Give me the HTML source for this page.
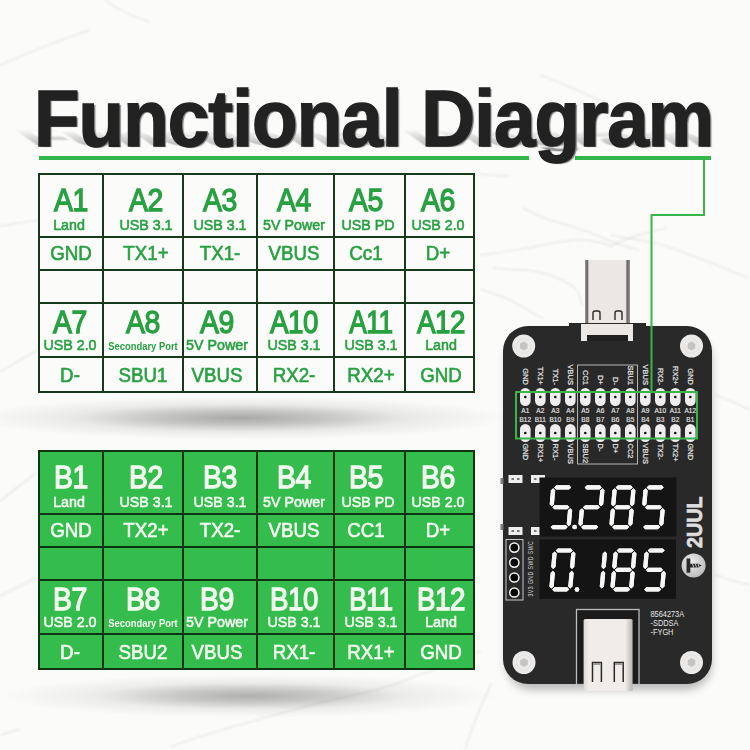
<!DOCTYPE html>
<html><head><meta charset="utf-8"><style>
html,body{margin:0;padding:0}
body{width:750px;height:750px;position:relative;overflow:hidden;background:#fbfbfa;font-family:"Liberation Sans",sans-serif}
.abs{position:absolute}
.t{position:absolute;width:200px;text-align:center;white-space:nowrap;transform-origin:50% 50%}
.pl{font-size:6.5px;fill:#e6e6e6;stroke:#e6e6e6;stroke-width:0.15px;font-family:"Liberation Sans"}
.pr{font-size:7.5px;fill:#e6e6e6;stroke:#e6e6e6;stroke-width:0.2px;font-family:"Liberation Sans"}
.ph{font-size:7px;fill:#dcdcdc;font-family:"Liberation Sans";letter-spacing:0.6px}
.logo{font-size:22px;font-weight:bold;fill:#dedede;stroke:#dedede;stroke-width:0.7px;font-family:"Liberation Sans"}
.pn{font-size:8.2px;fill:#e8e8e8;font-family:"Liberation Sans"}
.title{position:absolute;left:34px;top:71.5px;font-size:80.5px;line-height:92px;font-weight:bold;color:#222;white-space:nowrap;transform-origin:0 0;transform:scaleX(0.926);letter-spacing:-1px;-webkit-text-stroke:1.5px #222;text-shadow:2px 1px 1px #7d7d7d}
.tshadow{position:absolute;left:34px;top:71.5px;font-size:80.5px;line-height:92px;font-weight:bold;color:rgba(0,0,0,0.5);white-space:nowrap;transform-origin:0 73.9px;transform:matrix(0.926,0,0.45,0.32,0,0);letter-spacing:-1px;-webkit-text-stroke:1.5px rgba(0,0,0,0.5);filter:blur(1.5px);-webkit-mask-image:linear-gradient(to top, rgba(0,0,0,1) 0px, rgba(0,0,0,0.5) 20px, rgba(0,0,0,0) 70px)}
</style></head><body>
<svg class="abs" style="left:0;top:0" width="750" height="750" viewBox="0 0 750 750">
<g fill="none" stroke="rgba(0,0,0,0.075)" stroke-width="1.6" style="filter:blur(0.8px)">
<path d="M171,747 C200,735 230,728 257,720 S330,700 363,693 S410,678 427,672 S470,655 481,651"/>
<path d="M491,683 C480,710 470,730 465,750"/>
<path d="M0,735 C8,733 14,731 20,729"/>
<path d="M0,501 C12,492 24,482 36,473"/>
<path d="M0,596 C12,590 24,584 36,578"/>
<path d="M0,226 C12,224 26,222 38,220"/>
<path d="M0,372 C12,365 26,356 38,350"/>
<path d="M105,0 C115,8 128,15 150,22"/>
<path d="M0,65 C30,52 60,40 90,30"/>
<path d="M480,174 C490,175 500,176 508,176"/>
<path d="M523,208 C535,214 544,219 556,222 S590,232 608,240 S618,244 640,250"/>
<path d="M480,255 C495,253 512,251 528,248 S560,241 576,240 S600,243 612,246"/>
<path d="M493,268 C505,269 515,270 523,270 S548,274 555,277 S572,285 576,289 S580,300 582,306"/>
<path d="M480,289 C490,292 501,296 510,300 S530,312 544,319"/>
<path d="M610,235 C625,238 640,240 651,242 S700,258 748,278"/>
<path d="M610,246 C618,243 625,240 633,237 S655,231 667,228"/>
<path d="M540,75 C560,82 580,92 600,100"/>
<path d="M715,395 C730,400 740,405 750,410"/>
<path d="M715,575 C730,580 740,583 750,585"/>
</g></svg>
<div class="abs" style="left:-30px;top:396px;width:540px;height:44px;background:radial-gradient(ellipse 50% 50% at 50% 50%, rgba(0,0,0,0.33) 0%, rgba(0,0,0,0.22) 30%, rgba(0,0,0,0.07) 62%, rgba(0,0,0,0) 100%)"></div>
<div class="abs" style="left:0px;top:674px;width:500px;height:44px;background:radial-gradient(ellipse 50% 50% at 50% 50%, rgba(0,0,0,0.30) 0%, rgba(0,0,0,0.20) 30%, rgba(0,0,0,0.06) 62%, rgba(0,0,0,0) 100%)"></div>
<div class="tshadow">Functional Diagram</div>
<div class="title">Functional Diagram</div>
<div class="abs" style="left:39px;top:156px;width:490px;height:4px;background:#33b64b"></div>
<div class="abs" style="left:575px;top:156px;width:136px;height:4px;background:#33b64b"></div>
<div class="abs" style="left:38px;top:173px;width:437px;height:220px;background:transparent"></div>
<div class="abs" style="left:38px;top:173px;width:2px;height:220px;background:#163a1b"></div>
<div class="abs" style="left:102px;top:173px;width:2px;height:220px;background:#163a1b"></div>
<div class="abs" style="left:182px;top:173px;width:2px;height:220px;background:#163a1b"></div>
<div class="abs" style="left:256px;top:173px;width:2px;height:220px;background:#163a1b"></div>
<div class="abs" style="left:333px;top:173px;width:2px;height:220px;background:#163a1b"></div>
<div class="abs" style="left:404px;top:173px;width:2px;height:220px;background:#163a1b"></div>
<div class="abs" style="left:473px;top:173px;width:2px;height:220px;background:#163a1b"></div>
<div class="abs" style="left:38px;top:173px;width:437px;height:2px;background:#163a1b"></div>
<div class="abs" style="left:38px;top:236px;width:437px;height:2px;background:#163a1b"></div>
<div class="abs" style="left:38px;top:269px;width:437px;height:2px;background:#163a1b"></div>
<div class="abs" style="left:38px;top:302px;width:437px;height:2px;background:#163a1b"></div>
<div class="abs" style="left:38px;top:356px;width:437px;height:2px;background:#163a1b"></div>
<div class="abs" style="left:38px;top:391px;width:437px;height:2px;background:#163a1b"></div>
<div class="t" style="left:-29.0px;top:184.8px;font-size:31.5px;line-height:31.5px;font-weight:bold;color:#28a141;transform:scaleX(0.9);letter-spacing:-0.5px;font-weight:normal;-webkit-text-stroke:1.3px #28a141">A1</div>
<div class="t" style="left:-31.0px;top:216.7px;font-size:15.5px;line-height:15.5px;font-weight:normal;color:#28a141;transform:scaleX(0.92);letter-spacing:0px;-webkit-text-stroke:0.6px #28a141">Land</div>
<div class="t" style="left:46.0px;top:184.8px;font-size:31.5px;line-height:31.5px;font-weight:bold;color:#28a141;transform:scaleX(0.9);letter-spacing:-0.5px;font-weight:normal;-webkit-text-stroke:1.3px #28a141">A2</div>
<div class="t" style="left:46.0px;top:216.7px;font-size:15.5px;line-height:15.5px;font-weight:normal;color:#28a141;transform:scaleX(0.92);letter-spacing:0px;-webkit-text-stroke:0.6px #28a141">USB 3.1</div>
<div class="t" style="left:120.0px;top:184.8px;font-size:31.5px;line-height:31.5px;font-weight:bold;color:#28a141;transform:scaleX(0.9);letter-spacing:-0.5px;font-weight:normal;-webkit-text-stroke:1.3px #28a141">A3</div>
<div class="t" style="left:120.0px;top:216.7px;font-size:15.5px;line-height:15.5px;font-weight:normal;color:#28a141;transform:scaleX(0.92);letter-spacing:0px;-webkit-text-stroke:0.6px #28a141">USB 3.1</div>
<div class="t" style="left:194.0px;top:184.8px;font-size:31.5px;line-height:31.5px;font-weight:bold;color:#28a141;transform:scaleX(0.9);letter-spacing:-0.5px;font-weight:normal;-webkit-text-stroke:1.3px #28a141">A4</div>
<div class="t" style="left:194.0px;top:216.7px;font-size:15.5px;line-height:15.5px;font-weight:normal;color:#28a141;transform:scaleX(0.92);letter-spacing:0px;-webkit-text-stroke:0.6px #28a141">5V Power</div>
<div class="t" style="left:265.5px;top:184.8px;font-size:31.5px;line-height:31.5px;font-weight:bold;color:#28a141;transform:scaleX(0.9);letter-spacing:-0.5px;font-weight:normal;-webkit-text-stroke:1.3px #28a141">A5</div>
<div class="t" style="left:267.5px;top:216.7px;font-size:15.5px;line-height:15.5px;font-weight:normal;color:#28a141;transform:scaleX(0.92);letter-spacing:0px;-webkit-text-stroke:0.6px #28a141">USB PD</div>
<div class="t" style="left:338.0px;top:184.8px;font-size:31.5px;line-height:31.5px;font-weight:bold;color:#28a141;transform:scaleX(0.9);letter-spacing:-0.5px;font-weight:normal;-webkit-text-stroke:1.3px #28a141">A6</div>
<div class="t" style="left:337.5px;top:216.7px;font-size:15.5px;line-height:15.5px;font-weight:normal;color:#28a141;transform:scaleX(0.92);letter-spacing:0px;-webkit-text-stroke:0.6px #28a141">USB 2.0</div>
<div class="t" style="left:-29.0px;top:244.0px;font-size:19.5px;line-height:19.5px;font-weight:normal;color:#28a141;transform:scaleX(0.96);letter-spacing:0px;-webkit-text-stroke:0.6px #28a141">GND</div>
<div class="t" style="left:46.0px;top:244.0px;font-size:19.5px;line-height:19.5px;font-weight:normal;color:#28a141;transform:scaleX(0.96);letter-spacing:0px;-webkit-text-stroke:0.6px #28a141">TX1+</div>
<div class="t" style="left:120.0px;top:244.0px;font-size:19.5px;line-height:19.5px;font-weight:normal;color:#28a141;transform:scaleX(0.96);letter-spacing:0px;-webkit-text-stroke:0.6px #28a141">TX1-</div>
<div class="t" style="left:194.0px;top:244.0px;font-size:19.5px;line-height:19.5px;font-weight:normal;color:#28a141;transform:scaleX(0.96);letter-spacing:0px;-webkit-text-stroke:0.6px #28a141">VBUS</div>
<div class="t" style="left:265.5px;top:244.0px;font-size:19.5px;line-height:19.5px;font-weight:normal;color:#28a141;transform:scaleX(0.96);letter-spacing:0px;-webkit-text-stroke:0.6px #28a141">Cc1</div>
<div class="t" style="left:338.0px;top:244.0px;font-size:19.5px;line-height:19.5px;font-weight:normal;color:#28a141;transform:scaleX(0.96);letter-spacing:0px;-webkit-text-stroke:0.6px #28a141">D+</div>
<div class="t" style="left:-30.5px;top:306.8px;font-size:31.5px;line-height:31.5px;font-weight:bold;color:#28a141;transform:scaleX(0.9);letter-spacing:-0.5px;font-weight:normal;-webkit-text-stroke:1.3px #28a141">A7</div>
<div class="t" style="left:-30.5px;top:336.7px;font-size:15.5px;line-height:15.5px;font-weight:normal;color:#28a141;transform:scaleX(0.92);letter-spacing:0px;-webkit-text-stroke:0.6px #28a141">USB 2.0</div>
<div class="t" style="left:42.5px;top:306.8px;font-size:31.5px;line-height:31.5px;font-weight:bold;color:#28a141;transform:scaleX(0.9);letter-spacing:-0.5px;font-weight:normal;-webkit-text-stroke:1.3px #28a141">A8</div>
<div class="t" style="left:42.5px;top:339.5px;font-size:11.6px;line-height:11.6px;font-weight:bold;color:#28a141;transform:scaleX(0.81);letter-spacing:0px">Secondary Port</div>
<div class="t" style="left:116.5px;top:306.8px;font-size:31.5px;line-height:31.5px;font-weight:bold;color:#28a141;transform:scaleX(0.9);letter-spacing:-0.5px;font-weight:normal;-webkit-text-stroke:1.3px #28a141">A9</div>
<div class="t" style="left:116.5px;top:336.7px;font-size:15.5px;line-height:15.5px;font-weight:normal;color:#28a141;transform:scaleX(0.92);letter-spacing:0px;-webkit-text-stroke:0.6px #28a141">5V Power</div>
<div class="t" style="left:194.0px;top:306.8px;font-size:31.5px;line-height:31.5px;font-weight:bold;color:#28a141;transform:scaleX(0.88);letter-spacing:-0.5px;font-weight:normal;-webkit-text-stroke:1.3px #28a141">A10</div>
<div class="t" style="left:194.0px;top:336.7px;font-size:15.5px;line-height:15.5px;font-weight:normal;color:#28a141;transform:scaleX(0.92);letter-spacing:0px;-webkit-text-stroke:0.6px #28a141">USB 3.1</div>
<div class="t" style="left:271.0px;top:306.8px;font-size:31.5px;line-height:31.5px;font-weight:bold;color:#28a141;transform:scaleX(0.83);letter-spacing:-0.5px;font-weight:normal;-webkit-text-stroke:1.3px #28a141">A11</div>
<div class="t" style="left:271.0px;top:336.7px;font-size:15.5px;line-height:15.5px;font-weight:normal;color:#28a141;transform:scaleX(0.92);letter-spacing:0px;-webkit-text-stroke:0.6px #28a141">USB 3.1</div>
<div class="t" style="left:341.0px;top:306.8px;font-size:31.5px;line-height:31.5px;font-weight:bold;color:#28a141;transform:scaleX(0.88);letter-spacing:-0.5px;font-weight:normal;-webkit-text-stroke:1.3px #28a141">A12</div>
<div class="t" style="left:341.0px;top:336.7px;font-size:15.5px;line-height:15.5px;font-weight:normal;color:#28a141;transform:scaleX(0.92);letter-spacing:0px;-webkit-text-stroke:0.6px #28a141">Land</div>
<div class="t" style="left:-30.5px;top:365.5px;font-size:19.5px;line-height:19.5px;font-weight:normal;color:#28a141;transform:scaleX(0.96);letter-spacing:0px;-webkit-text-stroke:0.6px #28a141">D-</div>
<div class="t" style="left:42.5px;top:365.5px;font-size:19.5px;line-height:19.5px;font-weight:normal;color:#28a141;transform:scaleX(0.96);letter-spacing:0px;-webkit-text-stroke:0.6px #28a141">SBU1</div>
<div class="t" style="left:116.5px;top:365.5px;font-size:19.5px;line-height:19.5px;font-weight:normal;color:#28a141;transform:scaleX(0.96);letter-spacing:0px;-webkit-text-stroke:0.6px #28a141">VBUS</div>
<div class="t" style="left:194.0px;top:365.5px;font-size:19.5px;line-height:19.5px;font-weight:normal;color:#28a141;transform:scaleX(0.96);letter-spacing:0px;-webkit-text-stroke:0.6px #28a141">RX2-</div>
<div class="t" style="left:271.0px;top:365.5px;font-size:19.5px;line-height:19.5px;font-weight:normal;color:#28a141;transform:scaleX(0.96);letter-spacing:0px;-webkit-text-stroke:0.6px #28a141">RX2+</div>
<div class="t" style="left:341.0px;top:365.5px;font-size:19.5px;line-height:19.5px;font-weight:normal;color:#28a141;transform:scaleX(0.96);letter-spacing:0px;-webkit-text-stroke:0.6px #28a141">GND</div>
<div class="abs" style="left:38px;top:450px;width:437px;height:220px;background:#34bc4c"></div>
<div class="abs" style="left:38px;top:450px;width:2px;height:220px;background:#0d3312"></div>
<div class="abs" style="left:102px;top:450px;width:2px;height:220px;background:#0d3312"></div>
<div class="abs" style="left:182px;top:450px;width:2px;height:220px;background:#0d3312"></div>
<div class="abs" style="left:256px;top:450px;width:2px;height:220px;background:#0d3312"></div>
<div class="abs" style="left:333px;top:450px;width:2px;height:220px;background:#0d3312"></div>
<div class="abs" style="left:404px;top:450px;width:2px;height:220px;background:#0d3312"></div>
<div class="abs" style="left:473px;top:450px;width:2px;height:220px;background:#0d3312"></div>
<div class="abs" style="left:38px;top:450px;width:437px;height:2px;background:#0d3312"></div>
<div class="abs" style="left:38px;top:513px;width:437px;height:2px;background:#0d3312"></div>
<div class="abs" style="left:38px;top:546px;width:437px;height:2px;background:#0d3312"></div>
<div class="abs" style="left:38px;top:579px;width:437px;height:2px;background:#0d3312"></div>
<div class="abs" style="left:38px;top:633px;width:437px;height:2px;background:#0d3312"></div>
<div class="abs" style="left:38px;top:668px;width:437px;height:2px;background:#0d3312"></div>
<div class="t" style="left:-29.0px;top:461.8px;font-size:31.5px;line-height:31.5px;font-weight:bold;color:#f3fbf1;transform:scaleX(0.9);letter-spacing:-0.5px;font-weight:normal;-webkit-text-stroke:1.3px #f3fbf1">B1</div>
<div class="t" style="left:-31.0px;top:493.7px;font-size:15.5px;line-height:15.5px;font-weight:normal;color:#f3fbf1;transform:scaleX(0.92);letter-spacing:0px;-webkit-text-stroke:0.6px #f3fbf1">Land</div>
<div class="t" style="left:46.0px;top:461.8px;font-size:31.5px;line-height:31.5px;font-weight:bold;color:#f3fbf1;transform:scaleX(0.9);letter-spacing:-0.5px;font-weight:normal;-webkit-text-stroke:1.3px #f3fbf1">B2</div>
<div class="t" style="left:46.0px;top:493.7px;font-size:15.5px;line-height:15.5px;font-weight:normal;color:#f3fbf1;transform:scaleX(0.92);letter-spacing:0px;-webkit-text-stroke:0.6px #f3fbf1">USB 3.1</div>
<div class="t" style="left:120.0px;top:461.8px;font-size:31.5px;line-height:31.5px;font-weight:bold;color:#f3fbf1;transform:scaleX(0.9);letter-spacing:-0.5px;font-weight:normal;-webkit-text-stroke:1.3px #f3fbf1">B3</div>
<div class="t" style="left:120.0px;top:493.7px;font-size:15.5px;line-height:15.5px;font-weight:normal;color:#f3fbf1;transform:scaleX(0.92);letter-spacing:0px;-webkit-text-stroke:0.6px #f3fbf1">USB 3.1</div>
<div class="t" style="left:194.0px;top:461.8px;font-size:31.5px;line-height:31.5px;font-weight:bold;color:#f3fbf1;transform:scaleX(0.9);letter-spacing:-0.5px;font-weight:normal;-webkit-text-stroke:1.3px #f3fbf1">B4</div>
<div class="t" style="left:194.0px;top:493.7px;font-size:15.5px;line-height:15.5px;font-weight:normal;color:#f3fbf1;transform:scaleX(0.92);letter-spacing:0px;-webkit-text-stroke:0.6px #f3fbf1">5V Power</div>
<div class="t" style="left:265.5px;top:461.8px;font-size:31.5px;line-height:31.5px;font-weight:bold;color:#f3fbf1;transform:scaleX(0.9);letter-spacing:-0.5px;font-weight:normal;-webkit-text-stroke:1.3px #f3fbf1">B5</div>
<div class="t" style="left:267.5px;top:493.7px;font-size:15.5px;line-height:15.5px;font-weight:normal;color:#f3fbf1;transform:scaleX(0.92);letter-spacing:0px;-webkit-text-stroke:0.6px #f3fbf1">USB PD</div>
<div class="t" style="left:338.0px;top:461.8px;font-size:31.5px;line-height:31.5px;font-weight:bold;color:#f3fbf1;transform:scaleX(0.9);letter-spacing:-0.5px;font-weight:normal;-webkit-text-stroke:1.3px #f3fbf1">B6</div>
<div class="t" style="left:337.5px;top:493.7px;font-size:15.5px;line-height:15.5px;font-weight:normal;color:#f3fbf1;transform:scaleX(0.92);letter-spacing:0px;-webkit-text-stroke:0.6px #f3fbf1">USB 2.0</div>
<div class="t" style="left:-29.0px;top:521.0px;font-size:19.5px;line-height:19.5px;font-weight:normal;color:#f3fbf1;transform:scaleX(0.96);letter-spacing:0px;-webkit-text-stroke:0.6px #f3fbf1">GND</div>
<div class="t" style="left:46.0px;top:521.0px;font-size:19.5px;line-height:19.5px;font-weight:normal;color:#f3fbf1;transform:scaleX(0.96);letter-spacing:0px;-webkit-text-stroke:0.6px #f3fbf1">TX2+</div>
<div class="t" style="left:120.0px;top:521.0px;font-size:19.5px;line-height:19.5px;font-weight:normal;color:#f3fbf1;transform:scaleX(0.96);letter-spacing:0px;-webkit-text-stroke:0.6px #f3fbf1">TX2-</div>
<div class="t" style="left:194.0px;top:521.0px;font-size:19.5px;line-height:19.5px;font-weight:normal;color:#f3fbf1;transform:scaleX(0.96);letter-spacing:0px;-webkit-text-stroke:0.6px #f3fbf1">VBUS</div>
<div class="t" style="left:265.5px;top:521.0px;font-size:19.5px;line-height:19.5px;font-weight:normal;color:#f3fbf1;transform:scaleX(0.96);letter-spacing:0px;-webkit-text-stroke:0.6px #f3fbf1">CC1</div>
<div class="t" style="left:338.0px;top:521.0px;font-size:19.5px;line-height:19.5px;font-weight:normal;color:#f3fbf1;transform:scaleX(0.96);letter-spacing:0px;-webkit-text-stroke:0.6px #f3fbf1">D+</div>
<div class="t" style="left:-30.5px;top:583.8px;font-size:31.5px;line-height:31.5px;font-weight:bold;color:#f3fbf1;transform:scaleX(0.9);letter-spacing:-0.5px;font-weight:normal;-webkit-text-stroke:1.3px #f3fbf1">B7</div>
<div class="t" style="left:-30.5px;top:613.7px;font-size:15.5px;line-height:15.5px;font-weight:normal;color:#f3fbf1;transform:scaleX(0.92);letter-spacing:0px;-webkit-text-stroke:0.6px #f3fbf1">USB 2.0</div>
<div class="t" style="left:42.5px;top:583.8px;font-size:31.5px;line-height:31.5px;font-weight:bold;color:#f3fbf1;transform:scaleX(0.9);letter-spacing:-0.5px;font-weight:normal;-webkit-text-stroke:1.3px #f3fbf1">B8</div>
<div class="t" style="left:42.5px;top:616.5px;font-size:11.6px;line-height:11.6px;font-weight:bold;color:#f3fbf1;transform:scaleX(0.81);letter-spacing:0px">Secondary Port</div>
<div class="t" style="left:116.5px;top:583.8px;font-size:31.5px;line-height:31.5px;font-weight:bold;color:#f3fbf1;transform:scaleX(0.9);letter-spacing:-0.5px;font-weight:normal;-webkit-text-stroke:1.3px #f3fbf1">B9</div>
<div class="t" style="left:116.5px;top:613.7px;font-size:15.5px;line-height:15.5px;font-weight:normal;color:#f3fbf1;transform:scaleX(0.92);letter-spacing:0px;-webkit-text-stroke:0.6px #f3fbf1">5V Power</div>
<div class="t" style="left:194.0px;top:583.8px;font-size:31.5px;line-height:31.5px;font-weight:bold;color:#f3fbf1;transform:scaleX(0.88);letter-spacing:-0.5px;font-weight:normal;-webkit-text-stroke:1.3px #f3fbf1">B10</div>
<div class="t" style="left:194.0px;top:613.7px;font-size:15.5px;line-height:15.5px;font-weight:normal;color:#f3fbf1;transform:scaleX(0.92);letter-spacing:0px;-webkit-text-stroke:0.6px #f3fbf1">USB 3.1</div>
<div class="t" style="left:271.0px;top:583.8px;font-size:31.5px;line-height:31.5px;font-weight:bold;color:#f3fbf1;transform:scaleX(0.83);letter-spacing:-0.5px;font-weight:normal;-webkit-text-stroke:1.3px #f3fbf1">B11</div>
<div class="t" style="left:271.0px;top:613.7px;font-size:15.5px;line-height:15.5px;font-weight:normal;color:#f3fbf1;transform:scaleX(0.92);letter-spacing:0px;-webkit-text-stroke:0.6px #f3fbf1">USB 3.1</div>
<div class="t" style="left:341.0px;top:583.8px;font-size:31.5px;line-height:31.5px;font-weight:bold;color:#f3fbf1;transform:scaleX(0.88);letter-spacing:-0.5px;font-weight:normal;-webkit-text-stroke:1.3px #f3fbf1">B12</div>
<div class="t" style="left:341.0px;top:613.7px;font-size:15.5px;line-height:15.5px;font-weight:normal;color:#f3fbf1;transform:scaleX(0.92);letter-spacing:0px;-webkit-text-stroke:0.6px #f3fbf1">Land</div>
<div class="t" style="left:-30.5px;top:642.5px;font-size:19.5px;line-height:19.5px;font-weight:normal;color:#f3fbf1;transform:scaleX(0.96);letter-spacing:0px;-webkit-text-stroke:0.6px #f3fbf1">D-</div>
<div class="t" style="left:42.5px;top:642.5px;font-size:19.5px;line-height:19.5px;font-weight:normal;color:#f3fbf1;transform:scaleX(0.96);letter-spacing:0px;-webkit-text-stroke:0.6px #f3fbf1">SBU2</div>
<div class="t" style="left:116.5px;top:642.5px;font-size:19.5px;line-height:19.5px;font-weight:normal;color:#f3fbf1;transform:scaleX(0.96);letter-spacing:0px;-webkit-text-stroke:0.6px #f3fbf1">VBUS</div>
<div class="t" style="left:194.0px;top:642.5px;font-size:19.5px;line-height:19.5px;font-weight:normal;color:#f3fbf1;transform:scaleX(0.96);letter-spacing:0px;-webkit-text-stroke:0.6px #f3fbf1">RX1-</div>
<div class="t" style="left:271.0px;top:642.5px;font-size:19.5px;line-height:19.5px;font-weight:normal;color:#f3fbf1;transform:scaleX(0.96);letter-spacing:0px;-webkit-text-stroke:0.6px #f3fbf1">RX1+</div>
<div class="t" style="left:341.0px;top:642.5px;font-size:19.5px;line-height:19.5px;font-weight:normal;color:#f3fbf1;transform:scaleX(0.96);letter-spacing:0px;-webkit-text-stroke:0.6px #f3fbf1">GND</div>
<svg class="abs" style="left:0;top:0" width="750" height="750" viewBox="0 0 750 750">
<defs>
<filter id="glow" x="-20%" y="-20%" width="140%" height="140%"><feGaussianBlur stdDeviation="0.6" result="b"/><feMerge><feMergeNode in="b"/><feMergeNode in="SourceGraphic"/></feMerge></filter>
<filter id="soft" x="-50%" y="-50%" width="200%" height="200%"><feGaussianBlur stdDeviation="4"/></filter>
<linearGradient id="plug" x1="0" x2="1" y1="0" y2="0"><stop offset="0" stop-color="#9a9896"/><stop offset="0.06" stop-color="#656361"/><stop offset="0.085" stop-color="#ebe7e5"/><stop offset="0.9" stop-color="#ebe7e5"/><stop offset="0.935" stop-color="#656361"/><stop offset="1" stop-color="#9a9896"/></linearGradient>
<linearGradient id="plug2" x1="0" x2="1" y1="0" y2="0"><stop offset="0" stop-color="#dcd9d7"/><stop offset="0.1" stop-color="#efecea"/><stop offset="0.85" stop-color="#efecea"/><stop offset="1" stop-color="#b8b5b3"/></linearGradient>
<radialGradient id="logo" cx="0.4" cy="0.35" r="0.7"><stop offset="0" stop-color="#eeeeee"/><stop offset="1" stop-color="#b9b9b9"/></radialGradient>
</defs>
<rect x="506" y="334" width="206" height="356" rx="26" fill="#000" opacity="0.25" filter="url(#soft)"/>
<rect x="585" y="260" width="45" height="66" fill="url(#plug)"/>
<path d="M593,320 V313 Q593,311 595,311 H598 Q600,311 600,313 V320" fill="none" stroke="#2a2a2a" stroke-width="1.4"/>
<path d="M615,320 V313 Q615,311 617,311 H620 Q622,311 622,313 V320" fill="none" stroke="#2a2a2a" stroke-width="1.4"/>
<path d="M528,326 H569 V323 H646 V326 H687 A25,25 0 0 1 712,351 V659 A25,25 0 0 1 687,684 H528 A25,25 0 0 1 503,659 V351 A25,25 0 0 1 528,326 Z" fill="#292929"/>
<path d="M581,324 H633 V341 H628 V335 H587 V341 H581 Z" fill="#ebe7e5"/>
<rect x="587" y="335" width="41" height="6" fill="#202020"/>
<circle cx="523.7" cy="346" r="11.5" fill="#eceae8"/><circle cx="523.7" cy="346" r="7.5" fill="none" stroke="#e2dfdd" stroke-width="0.8"/><polygon points="527.51,348.20 523.70,350.40 519.89,348.20 519.89,343.80 523.70,341.60 527.51,343.80" fill="#c6c3c1"/>
<circle cx="691.5" cy="346" r="11.5" fill="#eceae8"/><circle cx="691.5" cy="346" r="7.5" fill="none" stroke="#e2dfdd" stroke-width="0.8"/><polygon points="695.31,348.20 691.50,350.40 687.69,348.20 687.69,343.80 691.50,341.60 695.31,343.80" fill="#c6c3c1"/>
<circle cx="524" cy="662.5" r="11.5" fill="#eceae8"/><circle cx="524" cy="662.5" r="7.5" fill="none" stroke="#e2dfdd" stroke-width="0.8"/><polygon points="527.81,664.70 524.00,666.90 520.19,664.70 520.19,660.30 524.00,658.10 527.81,660.30" fill="#c6c3c1"/>
<circle cx="691.5" cy="662.5" r="11.5" fill="#eceae8"/><circle cx="691.5" cy="662.5" r="7.5" fill="none" stroke="#e2dfdd" stroke-width="0.8"/><polygon points="695.31,664.70 691.50,666.90 687.69,664.70 687.69,660.30 691.50,658.10 695.31,660.30" fill="#c6c3c1"/>
<rect x="577.5" y="365" width="60" height="99" fill="none" stroke="#b5b5b5" stroke-width="1"/>
<rect x="520" y="388" width="10.6" height="18" rx="5.3" fill="#efeded"/>
<circle cx="525.3" cy="397" r="1.3" fill="#111"/>
<rect x="520" y="424" width="10.6" height="18" rx="5.3" fill="#efeded"/>
<circle cx="525.3" cy="433" r="1.3" fill="#111"/>
<text x="525.3" y="413.3" class="pl" text-anchor="middle">A1</text>
<text x="525.3" y="421.5" class="pl" text-anchor="middle">B12</text>
<text transform="translate(522.7,385) rotate(90)" class="pr" text-anchor="end">GND</text>
<text transform="translate(522.7,443.5) rotate(90)" class="pr">GND</text>
<rect x="535" y="388" width="10.6" height="18" rx="5.3" fill="#efeded"/>
<circle cx="540.3" cy="397" r="1.3" fill="#111"/>
<rect x="535" y="424" width="10.6" height="18" rx="5.3" fill="#efeded"/>
<circle cx="540.3" cy="433" r="1.3" fill="#111"/>
<text x="540.3" y="413.3" class="pl" text-anchor="middle">A2</text>
<text x="540.3" y="421.5" class="pl" text-anchor="middle">B11</text>
<text transform="translate(537.7,385) rotate(90)" class="pr" text-anchor="end">TX1+</text>
<text transform="translate(537.7,443.5) rotate(90)" class="pr">RX1+</text>
<rect x="550" y="388" width="10.6" height="18" rx="5.3" fill="#efeded"/>
<circle cx="555.3" cy="397" r="1.3" fill="#111"/>
<rect x="550" y="424" width="10.6" height="18" rx="5.3" fill="#efeded"/>
<circle cx="555.3" cy="433" r="1.3" fill="#111"/>
<text x="555.3" y="413.3" class="pl" text-anchor="middle">A3</text>
<text x="555.3" y="421.5" class="pl" text-anchor="middle">B10</text>
<text transform="translate(552.7,385) rotate(90)" class="pr" text-anchor="end">TX1-</text>
<text transform="translate(552.7,443.5) rotate(90)" class="pr">RX1-</text>
<rect x="565" y="388" width="10.6" height="18" rx="5.3" fill="#efeded"/>
<circle cx="570.3" cy="397" r="1.3" fill="#111"/>
<rect x="565" y="424" width="10.6" height="18" rx="5.3" fill="#efeded"/>
<circle cx="570.3" cy="433" r="1.3" fill="#111"/>
<text x="570.3" y="413.3" class="pl" text-anchor="middle">A4</text>
<text x="570.3" y="421.5" class="pl" text-anchor="middle">B9</text>
<text transform="translate(567.7,385) rotate(90)" class="pr" text-anchor="end">VBUS</text>
<text transform="translate(567.7,443.5) rotate(90)" class="pr">VBUS</text>
<rect x="580" y="388" width="10.6" height="18" rx="5.3" fill="#efeded"/>
<circle cx="585.3" cy="397" r="1.3" fill="#111"/>
<rect x="580" y="424" width="10.6" height="18" rx="5.3" fill="#efeded"/>
<circle cx="585.3" cy="433" r="1.3" fill="#111"/>
<text x="585.3" y="413.3" class="pl" text-anchor="middle">A5</text>
<text x="585.3" y="421.5" class="pl" text-anchor="middle">B8</text>
<text transform="translate(582.7,385) rotate(90)" class="pr" text-anchor="end">CC1</text>
<text transform="translate(582.7,443.5) rotate(90)" class="pr">SBU2</text>
<rect x="595" y="388" width="10.6" height="18" rx="5.3" fill="#efeded"/>
<circle cx="600.3" cy="397" r="1.3" fill="#111"/>
<rect x="595" y="424" width="10.6" height="18" rx="5.3" fill="#efeded"/>
<circle cx="600.3" cy="433" r="1.3" fill="#111"/>
<text x="600.3" y="413.3" class="pl" text-anchor="middle">A6</text>
<text x="600.3" y="421.5" class="pl" text-anchor="middle">B7</text>
<text transform="translate(597.7,385) rotate(90)" class="pr" text-anchor="end">D+</text>
<text transform="translate(597.7,443.5) rotate(90)" class="pr">D-</text>
<rect x="610" y="388" width="10.6" height="18" rx="5.3" fill="#efeded"/>
<circle cx="615.3" cy="397" r="1.3" fill="#111"/>
<rect x="610" y="424" width="10.6" height="18" rx="5.3" fill="#efeded"/>
<circle cx="615.3" cy="433" r="1.3" fill="#111"/>
<text x="615.3" y="413.3" class="pl" text-anchor="middle">A7</text>
<text x="615.3" y="421.5" class="pl" text-anchor="middle">B6</text>
<text transform="translate(612.7,385) rotate(90)" class="pr" text-anchor="end">D-</text>
<text transform="translate(612.7,443.5) rotate(90)" class="pr">D+</text>
<rect x="625" y="388" width="10.6" height="18" rx="5.3" fill="#efeded"/>
<circle cx="630.3" cy="397" r="1.3" fill="#111"/>
<rect x="625" y="424" width="10.6" height="18" rx="5.3" fill="#efeded"/>
<circle cx="630.3" cy="433" r="1.3" fill="#111"/>
<text x="630.3" y="413.3" class="pl" text-anchor="middle">A8</text>
<text x="630.3" y="421.5" class="pl" text-anchor="middle">B5</text>
<text transform="translate(627.7,385) rotate(90)" class="pr" text-anchor="end">SBU1</text>
<text transform="translate(627.7,443.5) rotate(90)" class="pr">CC2</text>
<rect x="640" y="388" width="10.6" height="18" rx="5.3" fill="#efeded"/>
<circle cx="645.3" cy="397" r="1.3" fill="#111"/>
<rect x="640" y="424" width="10.6" height="18" rx="5.3" fill="#efeded"/>
<circle cx="645.3" cy="433" r="1.3" fill="#111"/>
<text x="645.3" y="413.3" class="pl" text-anchor="middle">A9</text>
<text x="645.3" y="421.5" class="pl" text-anchor="middle">B4</text>
<text transform="translate(642.7,385) rotate(90)" class="pr" text-anchor="end">VBUS</text>
<text transform="translate(642.7,443.5) rotate(90)" class="pr">VBUS</text>
<rect x="655" y="388" width="10.6" height="18" rx="5.3" fill="#efeded"/>
<circle cx="660.3" cy="397" r="1.3" fill="#111"/>
<rect x="655" y="424" width="10.6" height="18" rx="5.3" fill="#efeded"/>
<circle cx="660.3" cy="433" r="1.3" fill="#111"/>
<text x="660.3" y="413.3" class="pl" text-anchor="middle">A10</text>
<text x="660.3" y="421.5" class="pl" text-anchor="middle">B3</text>
<text transform="translate(657.7,385) rotate(90)" class="pr" text-anchor="end">RX2-</text>
<text transform="translate(657.7,443.5) rotate(90)" class="pr">TX2-</text>
<rect x="670" y="388" width="10.6" height="18" rx="5.3" fill="#efeded"/>
<circle cx="675.3" cy="397" r="1.3" fill="#111"/>
<rect x="670" y="424" width="10.6" height="18" rx="5.3" fill="#efeded"/>
<circle cx="675.3" cy="433" r="1.3" fill="#111"/>
<text x="675.3" y="413.3" class="pl" text-anchor="middle">A11</text>
<text x="675.3" y="421.5" class="pl" text-anchor="middle">B2</text>
<text transform="translate(672.7,385) rotate(90)" class="pr" text-anchor="end">RX2+</text>
<text transform="translate(672.7,443.5) rotate(90)" class="pr">TX2+</text>
<rect x="685" y="388" width="10.6" height="18" rx="5.3" fill="#efeded"/>
<circle cx="690.3" cy="397" r="1.3" fill="#111"/>
<rect x="685" y="424" width="10.6" height="18" rx="5.3" fill="#efeded"/>
<circle cx="690.3" cy="433" r="1.3" fill="#111"/>
<text x="690.3" y="413.3" class="pl" text-anchor="middle">A12</text>
<text x="690.3" y="421.5" class="pl" text-anchor="middle">B1</text>
<text transform="translate(687.7,385) rotate(90)" class="pr" text-anchor="end">GND</text>
<text transform="translate(687.7,443.5) rotate(90)" class="pr">GND</text>
<rect x="516" y="392" width="181" height="46.5" fill="none" stroke="#3bb54a" stroke-width="2"/>
<path d="M704,158 V215 H651.5 V392" fill="none" stroke="#3bb54a" stroke-width="2"/>
<rect x="508.5" y="475" width="14" height="8" fill="#efeded"/><rect x="511.5" y="478" width="2.5" height="2" fill="#777"/><rect x="517.0" y="478" width="2.5" height="2" fill="#777"/>
<rect x="531" y="475" width="14" height="8" fill="#efeded"/><rect x="534" y="478" width="2.5" height="2" fill="#777"/><rect x="539.5" y="478" width="2.5" height="2" fill="#777"/>
<rect x="508.5" y="527" width="14" height="8" fill="#efeded"/><rect x="511.5" y="530" width="2.5" height="2" fill="#777"/><rect x="517.0" y="530" width="2.5" height="2" fill="#777"/>
<rect x="531" y="527" width="14" height="8" fill="#efeded"/><rect x="534" y="530" width="2.5" height="2" fill="#777"/><rect x="539.5" y="530" width="2.5" height="2" fill="#777"/>
<rect x="500.5" y="478" width="3" height="6" fill="#7a7a7a"/><rect x="500.5" y="524" width="3" height="6" fill="#7a7a7a"/>
<rect x="539.5" y="477.5" width="137" height="59" fill="#141414"/>
<rect x="539.5" y="539.5" width="136.5" height="59.5" fill="#141414"/>
<g fill="#f7f7f5" filter="url(#glow)">
<polygon points="554.21,487.4 556.5,485.3 569.3,485.3 571.21,487.4 568.93,489.5 556.13,489.5"/><polygon points="553.23,488.3 555.15,490.4 553.92,504.25 551.63,506.35 549.72,504.25 550.95,490.4"/><polygon points="552.45,507.25 554.74,505.15 567.54,505.15 569.45,507.25 567.16,509.35 554.36,509.35"/><polygon points="570.27,508.15 572.18,510.25 570.95,524.1 568.67,526.2 566.75,524.1 567.98,510.25"/><polygon points="550.69,527.1 552.97,525 565.77,525 567.69,527.1 565.4,529.2 552.6,529.2"/>
<polygon points="584.71,487.4 587,485.3 599.8,485.3 601.71,487.4 599.43,489.5 586.63,489.5"/><polygon points="602.53,488.3 604.45,490.4 603.22,504.25 600.93,506.35 599.02,504.25 600.25,490.4"/><polygon points="582.95,507.25 585.24,505.15 598.04,505.15 599.95,507.25 597.66,509.35 584.86,509.35"/><polygon points="581.97,508.15 583.88,510.25 582.65,524.1 580.37,526.2 578.45,524.1 579.68,510.25"/><polygon points="581.19,527.1 583.47,525 596.27,525 598.19,527.1 595.9,529.2 583.1,529.2"/>
<polygon points="615.71,487.4 618,485.3 630.8,485.3 632.71,487.4 630.43,489.5 617.63,489.5"/><polygon points="633.53,488.3 635.45,490.4 634.22,504.25 631.93,506.35 630.02,504.25 631.25,490.4"/><polygon points="631.77,508.15 633.68,510.25 632.45,524.1 630.17,526.2 628.25,524.1 629.48,510.25"/><polygon points="612.19,527.1 614.47,525 627.27,525 629.19,527.1 626.9,529.2 614.1,529.2"/><polygon points="612.97,508.15 614.88,510.25 613.65,524.1 611.37,526.2 609.45,524.1 610.68,510.25"/><polygon points="614.73,488.3 616.65,490.4 615.42,504.25 613.13,506.35 611.22,504.25 612.45,490.4"/><polygon points="613.95,507.25 616.24,505.15 629.04,505.15 630.95,507.25 628.66,509.35 615.86,509.35"/>
<polygon points="646.71,487.4 649,485.3 661.8,485.3 663.71,487.4 661.43,489.5 648.63,489.5"/><polygon points="645.73,488.3 647.65,490.4 646.42,504.25 644.13,506.35 642.22,504.25 643.45,490.4"/><polygon points="644.95,507.25 647.24,505.15 660.04,505.15 661.95,507.25 659.66,509.35 646.86,509.35"/><polygon points="662.77,508.15 664.68,510.25 663.45,524.1 661.17,526.2 659.25,524.1 660.48,510.25"/><polygon points="643.19,527.1 645.47,525 658.27,525 660.19,527.1 657.9,529.2 645.1,529.2"/>
<circle cx="574.6" cy="527" r="2.3"/>
<polygon points="555.71,550.5 558,548.4 570.8,548.4 572.71,550.5 570.42,552.6 557.62,552.6"/><polygon points="573.53,551.4 575.44,553.5 574.22,566.95 571.93,569.05 570.02,566.95 571.24,553.5"/><polygon points="571.77,570.85 573.68,572.95 572.46,586.4 570.17,588.5 568.26,586.4 569.48,572.95"/><polygon points="552.19,589.4 554.48,587.3 567.28,587.3 569.19,589.4 566.9,591.5 554.1,591.5"/><polygon points="552.97,570.85 554.88,572.95 553.66,586.4 551.37,588.5 549.46,586.4 550.68,572.95"/><polygon points="554.73,551.4 556.64,553.5 555.42,566.95 553.13,569.05 551.22,566.95 552.44,553.5"/>
<polygon points="605.03,551.4 606.94,553.5 605.72,566.95 603.43,569.05 601.52,566.95 602.74,553.5"/><polygon points="603.27,570.85 605.18,572.95 603.96,586.4 601.67,588.5 599.76,586.4 600.98,572.95"/>
<polygon points="616.71,550.5 619,548.4 631.8,548.4 633.71,550.5 631.42,552.6 618.62,552.6"/><polygon points="634.53,551.4 636.44,553.5 635.22,566.95 632.93,569.05 631.02,566.95 632.24,553.5"/><polygon points="632.77,570.85 634.68,572.95 633.46,586.4 631.17,588.5 629.26,586.4 630.48,572.95"/><polygon points="613.19,589.4 615.48,587.3 628.28,587.3 630.19,589.4 627.9,591.5 615.1,591.5"/><polygon points="613.97,570.85 615.88,572.95 614.66,586.4 612.37,588.5 610.46,586.4 611.68,572.95"/><polygon points="615.73,551.4 617.64,553.5 616.42,566.95 614.13,569.05 612.22,566.95 613.44,553.5"/><polygon points="614.95,569.95 617.24,567.85 630.04,567.85 631.95,569.95 629.66,572.05 616.86,572.05"/>
<polygon points="647.71,550.5 650,548.4 662.8,548.4 664.71,550.5 662.42,552.6 649.62,552.6"/><polygon points="646.73,551.4 648.64,553.5 647.42,566.95 645.13,569.05 643.22,566.95 644.44,553.5"/><polygon points="645.95,569.95 648.24,567.85 661.04,567.85 662.95,569.95 660.66,572.05 647.86,572.05"/><polygon points="663.77,570.85 665.68,572.95 664.46,586.4 662.17,588.5 660.26,586.4 661.48,572.95"/><polygon points="644.19,589.4 646.48,587.3 659.28,587.3 661.19,589.4 658.9,591.5 646.1,591.5"/>
<circle cx="577" cy="589.5" r="2.3"/>
</g>
<rect x="506" y="539.5" width="17" height="60.5" fill="none" stroke="#c9c9c9" stroke-width="1"/>
<circle cx="514.3" cy="547.6" r="4.6" fill="#050505" stroke="#f2f2f2" stroke-width="1.5"/>
<circle cx="514.3" cy="562.6" r="4.6" fill="#050505" stroke="#f2f2f2" stroke-width="1.5"/>
<circle cx="514.3" cy="577.5" r="4.6" fill="#050505" stroke="#f2f2f2" stroke-width="1.5"/>
<circle cx="514.3" cy="592.5" r="4.6" fill="#050505" stroke="#f2f2f2" stroke-width="1.5"/>
<text transform="translate(532.5,596.5) rotate(-90) scale(0.74,1)" class="ph">3V3 GND SWD SWC</text>
<text transform="translate(701.5,548) rotate(-90) scale(0.9,1)" class="logo">2UUL</text>
<circle cx="693.6" cy="565.6" r="12" fill="url(#logo)"/>
<path d="M686.5,558.5 h3.8 v5.3 h8 l3.5,1.8 l-3.5,1.8 h-8 v5.3 h-3.8 z" fill="#2a2a2a"/>
<path d="M692.5,563.8 l1.2,3.6 M695.3,563.8 l1.2,3.6 M698.1,564 l1,3.2" stroke="#d4d4d4" stroke-width="0.9"/>
<rect x="576.5" y="609.5" width="62.5" height="75" fill="#1b1b1b" stroke="#bdbdbd" stroke-width="1.3"/>
<rect x="583.6" y="619" width="49" height="72" rx="1.5" fill="url(#plug2)"/>
<path d="M592.5,682 V662.5 H601.4 V682" fill="none" stroke="#2a2a2a" stroke-width="1.5"/><rect x="593.3" y="663" width="7.5" height="2" fill="#9a9a9a"/>
<path d="M614.3000000000001,682 V662.5 H623.2 V682" fill="none" stroke="#2a2a2a" stroke-width="1.5"/><rect x="615.1" y="663" width="7.5" height="2" fill="#9a9a9a"/>
<text transform="translate(650.5,617.3) scale(0.9,1)" class="pn">8564273A</text><text transform="translate(650.5,626.3) scale(0.9,1)" class="pn">-SDDSA</text><text transform="translate(650.5,635) scale(0.9,1)" class="pn">-FYGH</text>
</svg>
</body></html>
